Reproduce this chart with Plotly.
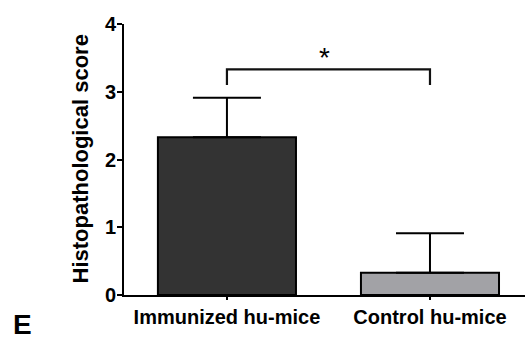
import plotly.graph_objects as go

categories = ["Immunized hu-mice", "Control hu-mice"]
means = [2.33, 0.33]
sd_upper = [0.58, 0.58]
bar_colors = ["#333333", "#a2a2a6"]
y_ticks = [0, 1, 2, 3, 4]
bracket_low = 3.1
bracket_high = 3.33
star_y = 3.5
sig_label = "*"

FONT = "Arial, Liberation Sans, sans-serif"

fig = go.Figure()
fig.add_trace(go.Bar(
    x=categories, y=means, width=0.68,
    marker=dict(color=bar_colors, line=dict(color="black", width=2)),
    error_y=dict(type="data", symmetric=False, array=sd_upper, arrayminus=[0, 0],
                 color="black", thickness=2, width=34),
    showlegend=False,
))
fig.add_trace(go.Scatter(
    x=[categories[0], categories[0], categories[1], categories[1]],
    y=[bracket_low, bracket_high, bracket_high, bracket_low],
    mode="lines", line=dict(color="#111111", width=2.2),
    showlegend=False, hoverinfo="skip", cliponaxis=False,
))
fig.add_annotation(x=0.48, y=star_y, xref="x", yref="y", text=sig_label,
                   showarrow=False, font=dict(family=FONT, size=28, color="black"))
fig.add_annotation(x=0, y=0.5, xref="paper", yref="paper", xshift=-44,
                   text="Histopathological score", textangle=-90, showarrow=False,
                   xanchor="center", yanchor="middle",
                   font=dict(family=FONT, size=22, color="black", weight="bold"))
fig.add_annotation(x=0, y=0, xref="paper", yref="paper", xshift=-102, yshift=-29,
                   text="E", showarrow=False, xanchor="center", yanchor="middle",
                   font=dict(family=FONT, size=28, color="black", weight="bold"))

fig.update_layout(
    width=525, height=340,
    margin=dict(l=124, r=0, t=24, b=45),
    paper_bgcolor="white", plot_bgcolor="white",
    bargap=0.32,
    xaxis=dict(range=[-0.507, 1.468], showline=True, linecolor="black", linewidth=2,
               ticks="outside", ticklen=3, tickwidth=2, tickcolor="black",
               showgrid=False, zeroline=False,
               tickfont=dict(family=FONT, size=20, color="black", weight="bold")),
    yaxis=dict(range=[0, 4], tickvals=y_ticks, showline=True, linecolor="black",
               linewidth=2, ticks="outside", ticklen=5, tickwidth=2, tickcolor="black",
               showgrid=False, zeroline=False, ticklabelstandoff=-3,
               tickfont=dict(family=FONT, size=20, color="black", weight="bold")),
)
fig.write_html("out.html")
